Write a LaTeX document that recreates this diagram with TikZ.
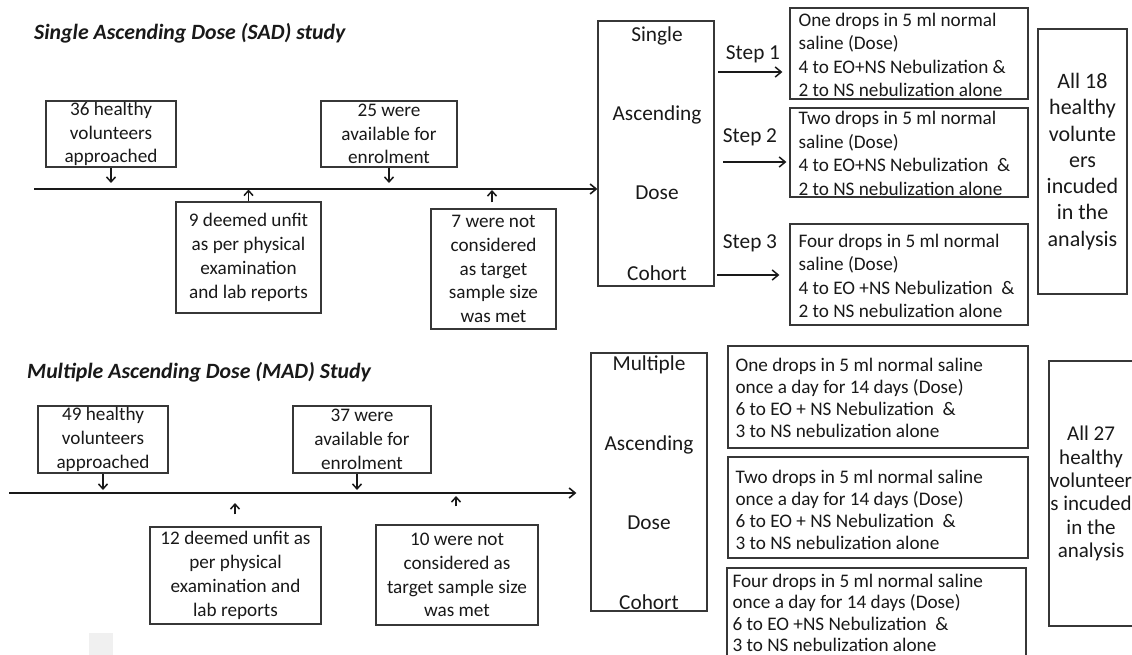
\documentclass[tikz,border=0pt]{standalone}
\usepackage{fontspec}
\setmainfont{Carlito}
\usetikzlibrary{arrows.meta}
\definecolor{ink}{RGB}{25,25,25}
\definecolor{boxline}{RGB}{55,55,55}
\begin{document}
\begin{tikzpicture}[x=1pt,y=-1pt,
  box/.style={draw=boxline,line width=1.3pt,inner sep=0pt,align=center,text=ink,
    font=\fontsize{19.2}{23.8}\selectfont},
  steptext/.style={anchor=west,align=left,inner sep=0pt,text=ink,
    font=\fontsize{19.2}{23.4}\selectfont},
  madtext/.style={steptext,font=\fontsize{19.2}{22}\selectfont},
  bigword/.style={text=ink,inner sep=0pt,font=\fontsize{21.3}{25}\selectfont},
  steplabel/.style={text=ink,inner sep=0pt,font=\fontsize{21.3}{25}\selectfont},
  titletext/.style={anchor=west,text=ink,inner sep=0pt,font=\fontsize{21.8}{26}\selectfont\bfseries\itshape},
  tline/.style={draw=ink,line width=2pt,-{Straight Barb[length=6pt,width=10pt,line width=1.6pt]}},
  sarr/.style={draw=ink,line width=1.6pt,-{Straight Barb[length=5pt,width=9pt,line width=1.5pt]}},
  stepar/.style={draw=ink,line width=1.6pt,-{Straight Barb[length=6pt,width=10pt,line width=1.5pt]}}
]
\useasboundingbox (0,0) rectangle (1132,655);
\clip (0,0) rectangle (1132,655);
\fill[white] (0,0) rectangle (1132,655);
\fill[black!6] (89,633) rectangle (113,655);

% ---------------- SAD ----------------
\node[titletext] (sadtitle) at (34,33) {Single Ascending Dose (SAD) study};

\node[box,minimum width=130pt,minimum height=66pt] (b36) at (111,134) {36 healthy\\volunteers\\approached};
\node[box,minimum width=136pt,minimum height=66pt] (b25) at (389,134) {25 were\\available for\\enrolment};
\node[box,minimum width=145pt,minimum height=111pt] (b9) at (248.5,257.5) {9 deemed unfit\\as per physical\\examination\\and lab reports};
\node[box,minimum width=125pt,minimum height=120pt] (b7) at (493.5,269) {7 were not\\considered\\as target\\sample size\\was met};

\node[box,minimum width=116pt,minimum height=265pt] (sad) at (656,153.5) {};
\node[bigword] (sadw1) at (657,36) {Single};
\node[bigword] (sadw2) at (657,115) {Ascending};
\node[bigword] (sadw3) at (657,193) {Dose};
\node[bigword] (sadw4) at (657,273) {Cohort};

\node[box,minimum width=238pt,minimum height=91pt] (s1) at (909,53.5) {};
\node[box,minimum width=238pt,minimum height=89pt] (s2) at (909,152.5) {};
\node[box,minimum width=238pt,minimum height=101pt] (s3) at (909,274.5) {};
\node[steptext] (s1t) at ([xshift=9pt,yshift=-1.5pt]s1.west) {One drops in 5 ml normal\\saline (Dose)\\4 to EO+NS Nebulization \&\\2 to NS nebulization alone};
\node[steptext] (s2t) at ([xshift=9pt,yshift=-1pt]s2.west) {Two drops in 5 ml normal\\saline (Dose)\\4 to EO+NS Nebulization\ \ \&\\2 to NS nebulization alone};
\node[steptext] (s3t) at ([xshift=9pt,yshift=-1.5pt]s3.west) {Four drops in 5 ml normal\\saline (Dose)\\4 to EO +NS Nebulization\ \ \&\\2 to NS nebulization alone};

\node[box,minimum width=89pt,minimum height=265pt,font=\fontsize{22}{26.3}\selectfont] (sadall) at (1082.5,161.5) {All 18\\healthy\\volunte\\ers\\incuded\\in the\\analysis};

\node[steplabel] (st1) at (753,54) {Step 1};
\node[steplabel] (st2) at (750,137) {Step 2};
\node[steplabel] (st3) at (750,243) {Step 3};

\coordinate (t1s) at (34,189);
\draw[tline] (t1s) -- (sad.west |- t1s);
\draw[sarr,shorten >=6pt] (b36.south) -- (b36.south |- t1s);
\draw[sarr,shorten >=6pt] (b25.south) -- (b25.south |- t1s);
\draw[sarr,shorten >=0.5pt] (b9.north) -- (b9.north |- t1s);
\draw[sarr,shorten <=6pt,shorten >=1pt] ([xshift=-1.5pt]b7.north) -- ([xshift=-1.5pt]b7.north |- t1s);

\coordinate (a1) at (718,72);
\coordinate (a2) at (723,162);
\coordinate (a3) at (717,275);
\draw[stepar,shorten >=7pt] (a1) -- (s1.west |- a1);
\draw[stepar,shorten >=3pt] (a2) -- (s2.west |- a2);
\draw[stepar,shorten >=10pt] (a3) -- (s3.west |- a3);

% ---------------- MAD ----------------
\node[titletext] (madtitle) at (27,372) {Multiple Ascending Dose (MAD) Study};

\node[box,minimum width=130pt,minimum height=67pt] (b49) at (103,439.5) {49 healthy\\volunteers\\approached};
\node[box,minimum width=138pt,minimum height=67pt] (b37) at (362,439.5) {37 were\\available for\\enrolment};
\node[box,minimum width=171pt,minimum height=97pt] (b12) at (235.5,575.5) {12 deemed unfit as\\per physical\\examination and\\lab reports};
\node[box,minimum width=162pt,minimum height=100pt] (b10) at (457,575) {10 were not\\considered as\\target sample size\\was met};

\node[box,minimum width=116pt,minimum height=258pt] (mad) at (649,482) {};
\node[bigword] (madw1) at (649,365) {Multiple};
\node[bigword] (madw2) at (649,445) {Ascending};
\node[bigword] (madw3) at (649,523) {Dose};
\node[bigword] (madw4) at (649,602) {Cohort};

\node[box,minimum width=300pt,minimum height=102pt] (m1) at (878,397) {};
\node[box,minimum width=300pt,minimum height=101pt] (m2) at (878,507.5) {};
\node[box,minimum width=299pt,minimum height=104pt] (m3) at (876.5,620) {};
\node[madtext] (m1t) at ([xshift=8pt,yshift=-1pt]m1.west) {One drops in 5 ml normal saline\\once a day for 14 days (Dose)\\6 to EO + NS Nebulization\ \ \&\\3 to NS nebulization alone};
\node[madtext] (m2t) at ([xshift=8pt,yshift=-2pt]m2.west) {Two drops in 5 ml normal saline\\once a day for 14 days (Dose)\\6 to EO + NS Nebulization\ \ \&\\3 to NS nebulization alone};
\node[madtext,font=\fontsize{19.2}{21.3}\selectfont] (m3t) at ([xshift=6pt,yshift=7pt]m3.west) {Four drops in 5 ml normal saline\\once a day for 14 days (Dose)\\6 to EO +NS Nebulization\ \ \&\\3 to NS nebulization alone};

\node[box,minimum width=84pt,minimum height=265pt,font=\fontsize{21}{23.4}\selectfont] (madall) at (1091,493.5) {All 27\\healthy\\volunteer\\s incuded\\in the\\analysis};

\coordinate (t2s) at (9,493);
\draw[tline,shorten >=14pt] (t2s) -- (mad.west |- t2s);
\draw[sarr,shorten >=3pt] (b49.south) -- (b49.south |- t2s);
\draw[sarr,shorten >=3pt] ([xshift=-5pt]b37.south) -- ([xshift=-5pt]b37.south |- t2s);
\draw[sarr,shorten <=12pt,shorten >=10pt] ([xshift=-0.5pt]b12.north) -- ([xshift=-0.5pt]b12.north |- t2s);
\draw[sarr,shorten <=18pt,shorten >=3pt] ([xshift=-1pt]b10.north) -- ([xshift=-1pt]b10.north |- t2s);
\end{tikzpicture}
\end{document}
